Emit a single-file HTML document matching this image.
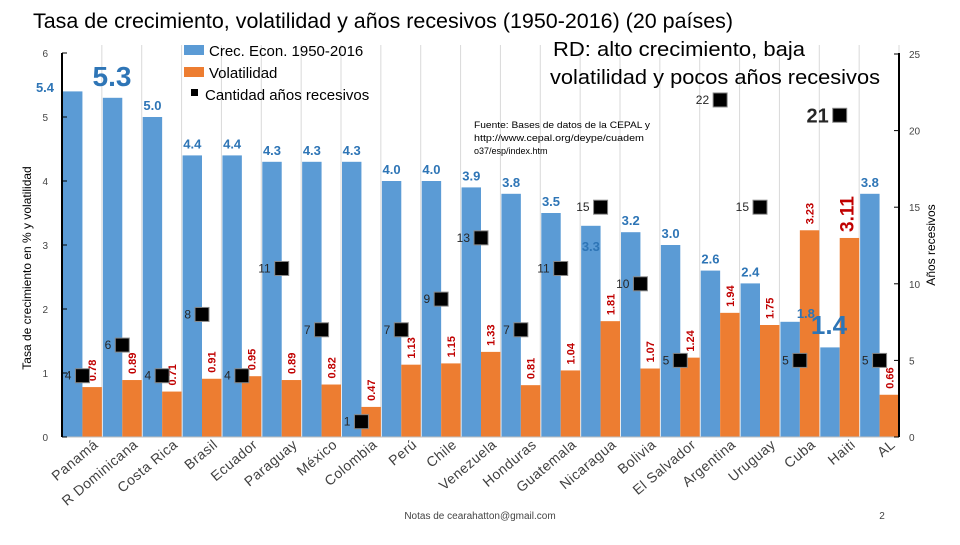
<!DOCTYPE html>
<html><head><meta charset="utf-8"><style>
body{margin:0;background:#fff;width:960px;height:540px;overflow:hidden}
svg{font-family:"Liberation Sans",sans-serif}
</style></head><body>
<svg id="chart" width="960" height="540">
<text x="33" y="28" font-size="21" textLength="700" lengthAdjust="spacingAndGlyphs">Tasa de crecimiento, volatilidad y años recesivos (1950-2016) (20 países)</text>
<g id="grid"></g><g id="bars"></g><g id="axes"></g><g id="labels"></g>
<text x="553" y="56" font-size="20" textLength="252" lengthAdjust="spacingAndGlyphs">RD: alto crecimiento, baja</text>
<text x="550" y="84" font-size="20" textLength="330" lengthAdjust="spacingAndGlyphs">volatilidad y pocos años recesivos</text>
<g font-size="9">
<text x="474" y="128" textLength="176" lengthAdjust="spacingAndGlyphs">Fuente: Bases de datos de la CEPAL y</text>
<text x="474" y="141" textLength="170" lengthAdjust="spacingAndGlyphs">http://www.cepal.org/deype/cuadem</text>
<text x="474" y="154">o37/esp/index.htm</text></g>
<g font-size="15">
<rect x="184" y="45" width="20" height="10" fill="#5b9bd5"/>
<text x="209" y="56">Crec. Econ. 1950-2016</text>
<rect x="184" y="67" width="20" height="10" fill="#ed7d31"/>
<text x="209" y="78">Volatilidad</text>
<rect x="191" y="89" width="7" height="7" fill="#000"/>
<text x="205" y="100">Cantidad años recesivos</text></g>
<text transform="translate(31,268) rotate(-90)" text-anchor="middle" font-size="12">Tasa de crecimiento en % y volatilidad</text>
<text transform="translate(935,245) rotate(-90)" text-anchor="middle" font-size="12">Años recesivos</text>
<text x="480" y="519" text-anchor="middle" font-size="10" fill="#444">Notas de cearahatton@gmail.com</text>
<text x="882" y="519" text-anchor="middle" font-size="10" fill="#444">2</text>
</svg>
<script>
const categories=["Panamá","R Dominicana","Costa Rica","Brasil","Ecuador","Paraguay","México","Colombia","Perú","Chile","Venezuela","Honduras","Guatemala","Nicaragua","Bolivia","El Salvador","Argentina","Uruguay","Cuba","Haiti","AL"];
const growth=[5.4,5.3,5.0,4.4,4.4,4.3,4.3,4.3,4.0,4.0,3.9,3.8,3.5,3.3,3.2,3.0,2.6,2.4,1.8,1.4,3.8];
const volatility=[0.78,0.89,0.71,0.91,0.95,0.89,0.82,0.47,1.13,1.15,1.33,0.81,1.04,1.81,1.07,1.24,1.94,1.75,3.23,3.11,0.66];
const recessionYears=[4,6,4,8,4,11,7,1,7,9,13,7,11,15,10,5,22,15,5,21,5];
const leftTicks=[0,1,2,3,4,5,6];
const rightTicks=[0,5,10,15,20,25];
const NS="http://www.w3.org/2000/svg";
const X0=62,X1=899,Y0=437,slot=(X1-X0)/categories.length;
const yL=v=>Y0-v*64, yR=v=>Y0-v*(Y0-54)/25, xs=i=>X0+i*slot;
function mk(p,t,a){const e=document.createElementNS(NS,t);for(const k in a)e.setAttribute(k,a[k]);document.getElementById(p).appendChild(e);return e;}
for(let i=1;i<=categories.length;i++){const g=mk('grid','line',{x1:xs(i),x2:xs(i),y1:45,y2:Y0,stroke:'#d9d9d9'});

}
mk('axes','line',{x1:X0,x2:X0,y1:53,y2:Y0,stroke:'#000','stroke-width':2});
mk('axes','line',{x1:X1,x2:X1,y1:53,y2:Y0,stroke:'#000','stroke-width':2});
mk('axes','line',{x1:X0,x2:X1,y1:Y0,y2:Y0,stroke:'#bfbfbf'});
leftTicks.forEach(v=>{mk('axes','line',{x1:X0,x2:X0+5,y1:yL(v),y2:yL(v),stroke:'#000'});
const t=mk('axes','text',{x:X0-14,y:yL(v)+4,'font-size':10,'text-anchor':'end',fill:'#444'});t.textContent=v;

});
rightTicks.forEach(v=>{mk('axes','line',{x1:X1-5,x2:X1,y1:yR(v),y2:yR(v),stroke:'#000'});
const t=mk('axes','text',{x:X1+10,y:yR(v)+4,'font-size':10,fill:'#444'});t.textContent=v;

});
const bw=slot/2-0.5;
categories.forEach((c,i)=>{
 const x=xs(i)+1;
 const b=mk('bars','rect',{x:x,y:yL(growth[i]),width:bw,height:Y0-yL(growth[i]),fill:'#5b9bd5'});
 
 
 const o=mk('bars','rect',{x:x+bw,y:yL(volatility[i]),width:bw,height:Y0-yL(volatility[i]),fill:'#ed7d31'});
 
 
 let gx=x+bw/2,gy=yL(growth[i])-7,fs=13;
 if(i===0){gx=45;gy=92;} if(i===1){gx=112;gy=86;fs=28;} if(i===13){gy=yL(growth[i])+25;}
 if(i===19){gx=829;gy=334;fs=26;} if(i===18){gx=x+bw+6;gy=yL(growth[i])-4;}
 const gl=mk('labels','text',{x:gx,y:gy,'font-size':fs,'font-weight':'bold','text-anchor':'middle',fill:'#2e75b6'});
 gl.textContent=growth[i].toFixed(1);
 
 
 const vx=x+bw*1.5+4,vy=yL(volatility[i])-6;
 const big=i===19;
 const vl=mk('labels','text',{transform:`translate(${vx},${vy}) rotate(-90)`,'font-size':big?19:11,'font-weight':'bold',fill:'#c00000'});
 vl.textContent=volatility[i].toFixed(2);
 
 
 const mx=x+bw,my=yR(recessionYears[i]);
 const m=mk('labels','rect',{x:mx-7,y:my-7,width:14,height:14,fill:'#000',stroke:'#888','stroke-width':1});
 
 
 const ml=mk('labels','text',{x:mx-11,y:my+(big?7:4),'font-size':big?20:12,'font-weight':big?'bold':'normal','text-anchor':'end',fill:'#262626'});
 ml.textContent=recessionYears[i];
 
 
 const cl=mk('labels','text',{transform:`translate(${xs(i)+slot/2+17},446) rotate(-40)`,'font-size':14,'text-anchor':'end',fill:'#404040','letter-spacing':'0.5'});
 cl.textContent=c;
 
 
});
</script>
</body></html>
